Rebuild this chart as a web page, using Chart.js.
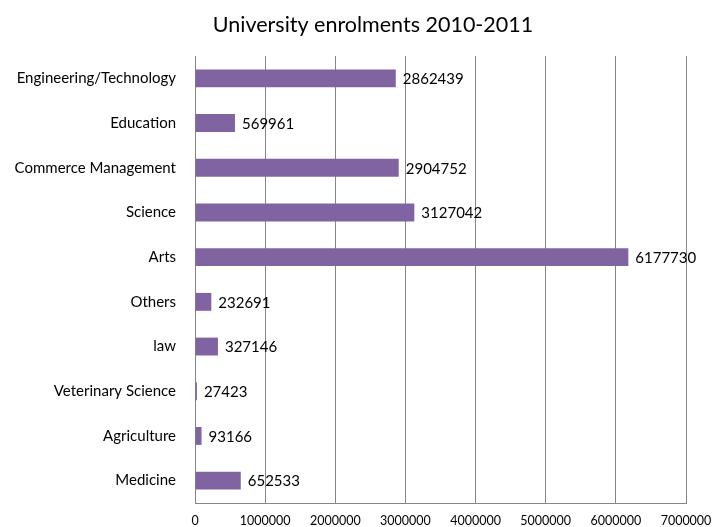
<!DOCTYPE html>
<html>
<head>
<meta charset="utf-8">
<script src="https://cdn.jsdelivr.net/npm/chart.js@4"></script>
<style>
  html, body { margin: 0; padding: 0; background: #ffffff; }
  #wrap { width: 712px; height: 527px; }
</style>
</head>
<body>
<div id="wrap"><canvas id="c" width="712" height="527"></canvas></div>
<script>
const chartTitle = 'University enrolments 2010-2011';
const categories = [
  'Engineering/Technology', 'Education', 'Commerce Management', 'Science', 'Arts',
  'Others', 'law', 'Veterinary Science', 'Agriculture', 'Medicine'
];
const enrolments = [
  2862439, 569961, 2904752, 3127042, 6177730,
  232691, 327146, 27423, 93166, 652533
];
const xTicks = [0, 1000000, 2000000, 3000000, 4000000, 5000000, 6000000, 7000000];

const FONT = 'Lato, "Open Sans", sans-serif';
const GRID = '#868686';

// Title centred above the plot
const titlePlugin = {
  id: 'topTitle',
  afterDraw(chart) {
    const ctx = chart.ctx;
    ctx.save();
    ctx.font = '21.5px ' + FONT;
    ctx.fillStyle = '#000000';
    ctx.textAlign = 'center';
    ctx.textBaseline = 'middle';
    ctx.fillText(chartTitle, 373, 25);
    ctx.restore();
  }
};

// Value labels to the right of each bar
const valueLabels = {
  id: 'valueLabels',
  afterDatasetsDraw(chart) {
    const ctx = chart.ctx;
    const meta = chart.getDatasetMeta(0);
    ctx.save();
    ctx.font = '15px ' + FONT;
    ctx.fillStyle = '#000000';
    ctx.textAlign = 'left';
    ctx.textBaseline = 'middle';
    meta.data.forEach((bar, i) => {
      ctx.fillText(String(enrolments[i]), bar.x + 7, bar.y + 1);
    });
    ctx.restore();
  }
};

new Chart(document.getElementById('c'), {
  type: 'bar',
  data: {
    labels: categories,
    datasets: [{
      data: enrolments,
      backgroundColor: '#8064A2',
      borderWidth: 0,
      barPercentage: 0.4,
      categoryPercentage: 1.0
    }]
  },
  options: {
    indexAxis: 'y',
    responsive: false,
    animation: false,
    layout: { padding: { top: 56, right: 26, left: 0, bottom: 0 } },
    plugins: {
      legend: { display: false },
      title: { display: false },
      tooltip: { enabled: false }
    },
    scales: {
      x: {
        min: 0,
        max: 7000000,
        afterBuildTicks(scale) { scale.ticks = xTicks.map(v => ({ value: v })); },
        afterFit(scale) {
          scale.height = 24;
          scale.paddingLeft = 0;
          scale.paddingRight = 0;
        },
        grid: { color: GRID, lineWidth: 1, drawTicks: false },
        border: { display: true, color: GRID, width: 1 },
        ticks: {
          padding: 10,
          maxRotation: 0,
          autoSkip: false,
          color: '#000000',
          font: { family: FONT, size: 12.5 },
          callback: v => String(v)
        }
      },
      y: {
        afterFit(scale) {
          scale.width = 195;
          scale.paddingTop = 0;
          scale.paddingBottom = 0;
        },
        grid: { display: false, drawTicks: false },
        border: { display: true, color: GRID, width: 1 },
        ticks: {
          padding: 19,
          color: '#000000',
          font: { family: FONT, size: 15 }
        }
      }
    }
  },
  plugins: [titlePlugin, valueLabels]
});
</script>
</body>
</html>
